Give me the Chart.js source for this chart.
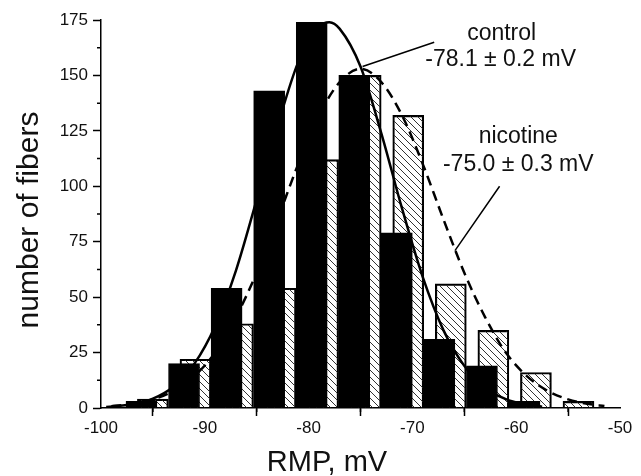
<!DOCTYPE html>
<html lang="en">
<head>
<meta charset="UTF-8">
<title>RMP histogram</title>
<script src="https://cdn.jsdelivr.net/npm/chart.js"></script>
<style>
  html, body { margin: 0; padding: 0; background: #fff; }
  #wrap { width: 641px; height: 476px; }
</style>
</head>
<body>
<div id="wrap"><canvas id="rmpChart" width="641" height="476"></canvas></div>
<script>
// histogram bins (centre, mV) and counts
const controlBins   = [-96.1, -92.0, -87.9, -83.8, -79.7, -75.6, -71.5, -67.4, -63.3, -59.2];
const controlCounts = [3, 20, 54, 143, 174, 150, 79, 31, 19, 3];
const nicotineBins   = [-95.0, -90.9, -86.8, -82.7, -78.6, -74.5, -70.4, -66.3, -62.2, -58.1, -54.0];
const nicotineCounts = [4, 22, 38, 54, 112, 150, 132, 56, 35, 16, 3];

// fitted curves
const controlFitX = [-99.5, -97, -95, -93, -91, -89, -87, -85, -83, -81, -79, -78, -77, -75, -73, -71, -69, -67, -65, -63, -61, -59, -57.5];
const controlFitY = [0.5, 1.7, 4.2, 9.7, 20, 37, 62, 94, 127, 156, 172, 174, 171, 154, 124, 90, 59, 35, 19, 9, 4, 1.5, 0.6];
const nicotineFitX = [-99, -97, -95, -93, -91, -89, -87, -85, -83, -81, -79, -77, -75, -73, -71, -69, -67, -65, -63, -61, -59, -57, -55, -53, -51.5];
const nicotineFitY = [0.8, 1.8, 3.9, 7.8, 14.5, 25, 41, 61, 85, 110, 132, 147, 153, 147, 132, 110, 85, 61, 41, 25, 14.5, 7.8, 3.9, 1.8, 0.9];

// axis ticks
const xMajor = [-100, -90, -80, -70, -60, -50];
const xMinor = [-95, -85, -75, -65, -55];
const yMajor = [0, 25, 50, 75, 100, 125, 150, 175];
const yMinor = [12.5, 37.5, 62.5, 87.5, 112.5, 137.5, 162.5];

const FONT = '"Liberation Sans", Arial, sans-serif';

function pts(xs, ys) {
    return xs.map((x, i) => ({ x: x, y: ys[i] }));
}

// diagonal hatch for the nicotine bars
function hatchPattern() {
    const c = document.createElement('canvas');
    c.width = 7; c.height = 7;
    const g = c.getContext('2d');
    g.strokeStyle = '#333';
    g.lineWidth = 1;
    g.beginPath();
    g.moveTo(-1, -1); g.lineTo(8, 8);
    g.moveTo(-1, 6);  g.lineTo(1, 8);
    g.moveTo(6, -1);  g.lineTo(8, 1);
    g.stroke();
    return g.createPattern(c, 'repeat');
}

// minor ticks, labels, leader lines and axis titles
const extras = {
    id: 'extras',
    afterDraw(chart) {
        const { ctx, scales: { x, y } } = chart;
        ctx.save();
        ctx.strokeStyle = '#000';
        ctx.lineWidth = 1.5;
        ctx.beginPath();
        xMinor.forEach(v => {
            const px = x.getPixelForValue(v);
            ctx.moveTo(px, x.top); ctx.lineTo(px, x.top + 4);
        });
        yMinor.forEach(v => {
            const py = y.getPixelForValue(v);
            ctx.moveTo(y.right, py); ctx.lineTo(y.right - 4, py);
        });
        ctx.stroke();

        // leader lines
        ctx.beginPath();
        ctx.moveTo(x.getPixelForValue(-74.8), y.getPixelForValue(154));
        ctx.lineTo(x.getPixelForValue(-67.9), y.getPixelForValue(165));
        ctx.moveTo(x.getPixelForValue(-65.9), y.getPixelForValue(71));
        ctx.lineTo(x.getPixelForValue(-61.6), y.getPixelForValue(100));
        ctx.stroke();

        // annotations
        ctx.fillStyle = '#111';
        ctx.textAlign = 'center';
        ctx.textBaseline = 'alphabetic';
        ctx.font = '23px ' + FONT;
        ctx.fillText('control', x.getPixelForValue(-61.4), y.getPixelForValue(165.9));
        ctx.fillText('-78.1 \u00b1 0.2 mV', x.getPixelForValue(-61.5), y.getPixelForValue(154.2));
        ctx.fillText('nicotine', x.getPixelForValue(-59.8), y.getPixelForValue(119.6));
        ctx.fillText('-75.0 \u00b1 0.3 mV', x.getPixelForValue(-59.8), y.getPixelForValue(106.7));

        // axis titles
        ctx.font = '29px ' + FONT;
        ctx.fillText('RMP, mV', 327, 471);
        ctx.font = '30px ' + FONT;
        ctx.translate(38, 220);
        ctx.rotate(-Math.PI / 2);
        ctx.fillText('number of fibers', 0, 0);
        ctx.restore();
    }
};

const tickFont = { family: FONT, size: 17 };

new Chart(document.getElementById('rmpChart'), {
    type: 'bar',
    data: {
        datasets: [{
            type: 'line',
            label: 'control fit',
            data: pts(controlFitX, controlFitY),
            borderColor: '#000',
            borderWidth: 2.5,
            pointRadius: 0,
            cubicInterpolationMode: 'monotone',
            order: 0
        }, {
            type: 'line',
            label: 'nicotine fit',
            data: pts(nicotineFitX, nicotineFitY),
            borderColor: '#000',
            borderWidth: 2.5,
            borderDash: [10, 6],
            pointRadius: 0,
            cubicInterpolationMode: 'monotone',
            order: 0
        }, {
            label: 'control',
            data: pts(controlBins, controlCounts),
            backgroundColor: '#000',
            borderColor: '#000',
            borderWidth: 1,
            barThickness: 31,
            grouped: false,
            order: 1
        }, {
            label: 'nicotine',
            data: pts(nicotineBins, nicotineCounts),
            backgroundColor: hatchPattern(),
            borderColor: '#000',
            borderWidth: 1.5,
            barThickness: 31,
            grouped: false,
            order: 2
        }]
    },
    options: {
        responsive: false,
        animation: false,
        layout: { padding: { top: 20, right: 21, left: 0, bottom: 0 } },
        plugins: { legend: { display: false }, tooltip: { enabled: false } },
        scales: {
            x: {
                type: 'linear',
                min: -100, max: -50,
                offset: false,
                afterFit(scale) { scale.height = 68; },
                afterBuildTicks(scale) { scale.ticks = xMajor.map(v => ({ value: v })); },
                ticks: { font: tickFont, color: '#111', padding: 2, maxRotation: 0 },
                grid: { drawOnChartArea: false, tickLength: 8, tickWidth: 1.5, tickColor: '#000' },
                border: { display: true, color: '#000', width: 1.5 }
            },
            y: {
                min: 0, max: 175,
                afterFit(scale) { scale.width = 101; },
                afterBuildTicks(scale) { scale.ticks = yMajor.map(v => ({ value: v })); },
                ticks: { font: tickFont, color: '#111', padding: 5 },
                grid: { drawOnChartArea: false, tickLength: 8, tickWidth: 1.5, tickColor: '#000' },
                border: { display: true, color: '#000', width: 1.5 }
            }
        }
    },
    plugins: [extras]
});
</script>
</body>
</html>
